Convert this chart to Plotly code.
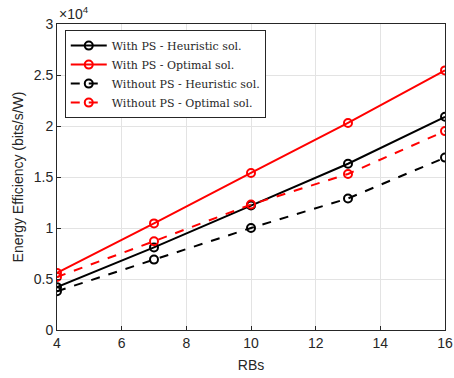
import plotly.graph_objects as go

# Number of resource blocks
rbs = [4, 7, 10, 13, 16]

# Energy efficiency (bits/s/W), in units of 1e4
ps_heuristic = [0.42, 0.81, 1.22, 1.63, 2.09]
ps_optimal = [0.56, 1.045, 1.54, 2.03, 2.545]
nops_heuristic = [0.38, 0.69, 1.00, 1.29, 1.69]
nops_optimal = [0.52, 0.87, 1.23, 1.53, 1.95]

series = [
    ("With PS - Heuristic sol.", ps_heuristic, "black", "solid"),
    ("With PS - Optimal sol.", ps_optimal, "red", "solid"),
    ("Without PS - Heuristic sol.", nops_heuristic, "black", "dash"),
    ("Without PS - Optimal sol.", nops_optimal, "red", "dash"),
]

x_ticks = [4, 6, 8, 10, 12, 14, 16]
y_ticks = [0, 0.5, 1, 1.5, 2, 2.5, 3]
y_tick_text = ["0", "0.5", "1", "1.5", "2", "2.5", "3"]

SANS = "Liberation Sans"
SERIF = "DejaVu Serif"
INK = "#262626"

fig = go.Figure()
for name, vals, color, dash in series:
    fig.add_trace(go.Scatter(
        x=rbs, y=vals, name=name, mode="lines+markers",
        line=dict(color=color, width=2, dash=dash),
        marker=dict(symbol="circle-open", size=8, color=color,
                    line=dict(width=2, color=color)),
    ))

axis_common = dict(
    showline=True, linecolor=INK, linewidth=1, mirror=True,
    ticks="inside", ticklen=4, tickcolor=INK,
    showgrid=True, gridcolor="#e3e3e3", gridwidth=1,
    zeroline=False, ticklabeloverflow="allow", automargin=False,
    tickfont=dict(family=SANS, size=14, color=INK),
)

fig.update_layout(
    width=454, height=378,
    margin=dict(l=57, r=9, t=24, b=48),
    paper_bgcolor="white", plot_bgcolor="white",
    xaxis=dict(range=[4, 16], tickvals=x_ticks,
               title=dict(text="RBs", standoff=10,
                          font=dict(family=SANS, size=14, color=INK)),
               **axis_common),
    yaxis=dict(range=[0, 3], tickvals=y_ticks, ticktext=y_tick_text,
               title=dict(text="Energy Efficiency (bits/s/W)", standoff=6,
                          font=dict(family=SANS, size=14, color=INK)),
               **axis_common),
    legend=dict(
        x=0.02, y=0.98, xanchor="left", yanchor="top",
        bgcolor="white", bordercolor=INK, borderwidth=1,
        font=dict(family=SERIF, size=11, color=INK),
        tracegroupgap=0, itemwidth=36,
    ),
    showlegend=True,
)

fig.add_annotation(
    xref="paper", yref="paper", x=0, y=1.0, xanchor="left", yanchor="bottom",
    text="×10<sup>4</sup>", showarrow=False,
    font=dict(family=SANS, size=14, color=INK),
)

fig.write_html("out.html")
